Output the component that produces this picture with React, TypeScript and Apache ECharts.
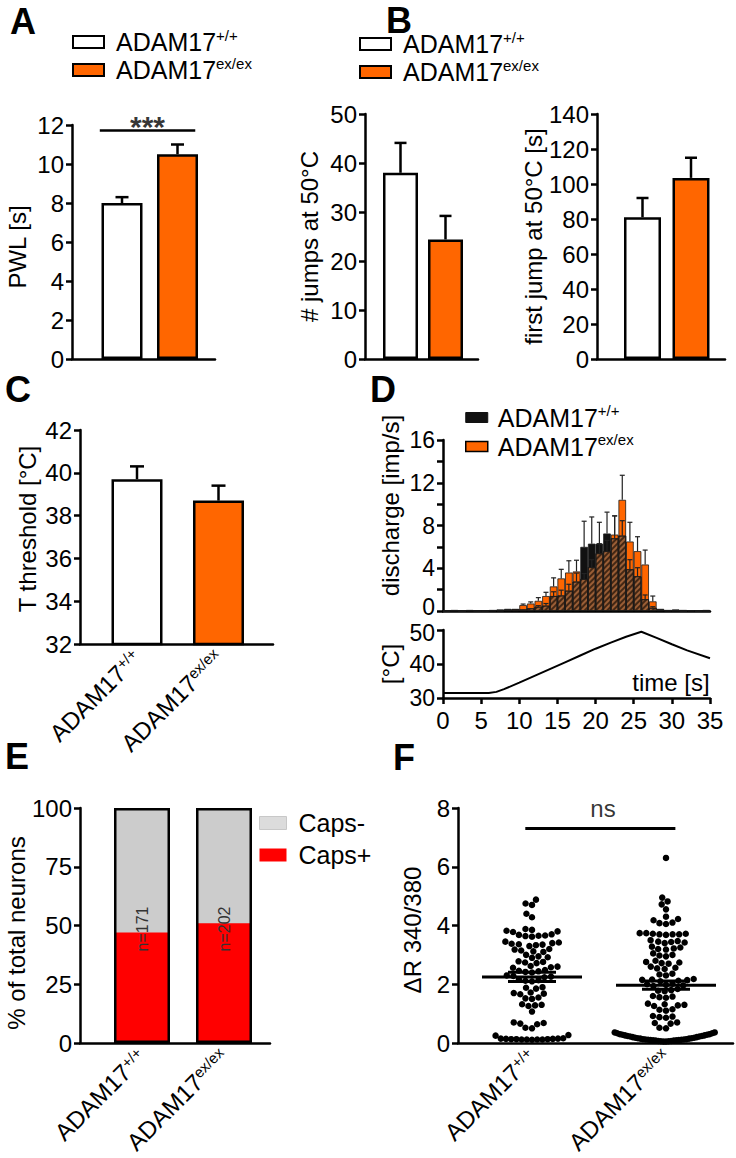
import React, { useEffect, useRef } from 'react';
import * as echarts from 'echarts';

// ---------------- data ----------------
const GROUP_BASE = 'ADAM17';
const GROUP_SUP = ['+/+', 'ex/ex'];
const GROUPS = ['ADAM17+/+', 'ADAM17ex/ex'];

// A
const PWL_MEAN = [8.0, 10.5];
const PWL_SEM = [0.3, 0.5];
const PWL_AXIS = [0, 12, 2];
const SIG_A = '***';
// B
const JUMPS_MEAN = [38.0, 24.4];
const JUMPS_SEM = [6.1, 4.8];
const JUMPS_AXIS = [0, 50, 10];
const FIRST_JUMP_MEAN = [81.0, 103.5];
const FIRST_JUMP_SEM = [11.0, 11.5];
const FIRST_JUMP_AXIS = [0, 140, 20];
// C
const T_THRESH_MEAN = [39.7, 38.7];
const T_THRESH_SEM = [0.6, 0.7];
const T_THRESH_AXIS = [32, 42, 2];
// D
const TIME_BINS = [0, 1, 2, 3, 4, 5, 6, 7, 8, 9, 10, 11, 12, 13, 14, 15, 16, 17, 18, 19, 20, 21, 22, 23, 24, 25, 26, 27, 28, 29, 30, 31, 32, 33, 34];
const WT_DISCHARGE = [0.05, 0.1, 0.05, 0.1, 0, 0.05, 0.1, 0.15, 0.2, 0.2, 0.15, 0.25, 0.4, 0.5, 1.4, 1.45, 1.9, 2.75, 6.0, 6.3, 6.3, 7.25, 6.8, 7.05, 3.9, 3.25, 1.1, 0.3, 0.2, 0.1, 0.15, 0.1, 0.05, 0.05, 0.1];
const EX_DISCHARGE = [0, 0.05, 0, 0.05, 0, 0, 0.05, 0.05, 0.1, 0.15, 0.55, 0.7, 0.95, 1.4, 2.3, 3.05, 3.6, 3.7, 3.0, 4.1, 5.4, 5.6, 7.15, 10.4, 6.5, 5.6, 4.35, 0.9, 0.1, 0.05, 0.05, 0, 0.05, 0, 0];
const WT_DISCHARGE_SEM = [0, 0, 0, 0, 0, 0, 0, 0, 0, 0, 0, 0, 0.1, 0.2, 0.4, 0.5, 0.6, 0.8, 2.4, 2.5, 2.0, 2.0, 2.1, 1.4, 0.9, 0.8, 0.4, 0.1, 0, 0, 0, 0, 0, 0, 0];
const EX_DISCHARGE_SEM = [0, 0, 0, 0, 0, 0, 0, 0, 0, 0, 0.1, 0.15, 0.3, 0.35, 0.8, 0.85, 1.1, 1.05, 0.5, 0.7, 0.9, 1.0, 1.75, 2.3, 1.8, 1.35, 1.35, 0.5, 0, 0, 0, 0, 0, 0, 0];
const DISCHARGE_AXIS = [0, 16, 2];
const TEMP_TIME = [0, 6, 7, 8, 10, 12, 14, 16, 18, 20, 22, 24, 26, 28, 30, 32, 35];
const TEMP_VALUES = [31.5, 31.5, 31.8, 32.6, 34.5, 36.5, 38.5, 40.5, 42.5, 44.5, 46.3, 48.0, 49.5, 47.7, 45.8, 44.0, 41.7];
const TEMP_AXIS = [30, 50, 10];
const TIME_AXIS = [0, 35, 5];
// E
const CAPS_POS = [47, 51];
const CAPS_NEG = [53, 49];
const N_CELLS = [171, 202];
const PCT_AXIS = [0, 100, 25];
// F
const WT_RATIO = [4.88, 4.75, 4.7, 4.4, 4.28,
  3.88, 3.85, 3.82, 3.8, 3.78,
  3.7, 3.68, 3.66, 3.65, 3.64, 3.62,
  3.45, 3.42, 3.4, 3.38, 3.36, 3.35, 3.33, 3.3,
  3.2, 3.18, 3.15, 3.12, 3.1,
  3.0, 2.95, 2.92, 2.9,
  2.78, 2.76, 2.74, 2.72,
  2.62, 2.6, 2.58, 2.56,
  2.48, 2.46, 2.44, 2.42, 2.4,
  2.3, 2.28, 2.26, 2.24,
  2.16, 2.14, 2.12, 2.1,
  1.9, 1.88, 1.85,
  1.72, 1.7, 1.68, 1.66,
  1.55, 1.52, 1.5,
  1.32, 1.3, 1.28, 1.26,
  1.07,
  0.7, 0.68, 0.66, 0.64,
  0.52, 0.5,
  0.27, 0.25,
  0.15, 0.14, 0.13, 0.13, 0.12, 0.12, 0.12, 0.11, 0.12, 0.13, 0.14, 0.15, 0.16];
const EX_RATIO = [6.3, 4.95, 4.82, 4.72, 4.55, 4.3, 4.22, 4.18, 4.1, 4.08, 4.05,
  3.74, 3.72, 3.7, 3.7, 3.68, 3.7, 3.72, 3.74,
  3.5, 3.47, 3.45, 3.44, 3.42, 3.4,
  3.28, 3.25, 3.22, 3.2, 3.18,
  3.05, 3.0, 2.98, 2.95,
  2.8, 2.76, 2.74, 2.72, 2.7,
  2.6, 2.56, 2.54, 2.52,
  2.36, 2.33, 2.3,
  2.18, 2.16, 2.15, 2.14, 2.12, 2.1,
  2.02, 2.0, 1.98, 1.96, 1.94,
  1.84, 1.8, 1.78, 1.76,
  1.6, 1.58, 1.56, 1.54,
  1.34, 1.32, 1.3, 1.28, 1.26,
  1.15, 1.13, 1.1,
  0.92, 0.9, 0.88, 0.86,
  0.7, 0.68, 0.66,
  0.52, 0.5,
  0.36, 0.33, 0.3, 0.28, 0.26, 0.24, 0.22, 0.2, 0.18, 0.16, 0.15, 0.13, 0.12, 0.11, 0.1, 0.09, 0.08, 0.07, 0.06, 0.05,
  0.05, 0.06, 0.07, 0.08, 0.09, 0.1, 0.11, 0.12, 0.13, 0.15, 0.16, 0.18, 0.2, 0.22, 0.24, 0.26, 0.28, 0.3, 0.33, 0.36];
const RATIO_MEAN = [2.25, 1.97];
const RATIO_SEM = [0.16, 0.14];
const RATIO_AXIS = [0, 8, 2];
const SIG_F = 'ns';

// ---------------- layout / style ----------------
const FONT = '"Liberation Sans", Arial, Helvetica, sans-serif';
const ORANGE = '#ff6600';
const L: any = {
  A: { grid: { left: 72, top: 125, width: 143, height: 234 }, centers: [122, 177.5], barW: 41 },
  B1: { grid: { left: 365, top: 114, width: 113, height: 245 }, centers: [400.5, 445.5], barW: 35 },
  B2: { grid: { left: 597, top: 114, width: 128, height: 245 }, centers: [642.5, 691], barW: 37 },
  C: { grid: { left: 80, top: 430, width: 193, height: 214 }, centers: [137, 218.5], barW: 51 },
  Dt: { grid: { left: 443, top: 440, width: 267, height: 171 } },
  Db: { grid: { left: 443, top: 630, width: 267, height: 68 } },
  E: { grid: { left: 80, top: 808, width: 190, height: 235 }, centers: [142, 224], barW: 56 },
  F: { grid: { left: 458, top: 808, width: 275, height: 235 }, centers: [532, 666] },
};

const SUP = { fontSize: 15, verticalAlign: 'top', lineHeight: 16, fontFamily: FONT, color: '#000' };
const groupText = (i: number) => GROUP_BASE + '{sup|' + GROUP_SUP[i] + '}';

function xr(p: any) {
  const d = p.centers[1] - p.centers[0];
  return { min: -(p.centers[0] - p.grid.left) / d, max: 1 + (p.grid.left + p.grid.width - p.centers[1]) / d };
}

function xAx(gridIndex: number, range: any, extra: any = {}) {
  return {
    type: 'value', gridIndex, ...range,
    axisLine: { show: true, onZero: false, lineStyle: { color: '#000', width: 2.5 } },
    axisTick: { show: false },
    axisLabel: { show: false },
    splitLine: { show: false },
    ...extra,
  };
}

function yAx(gridIndex: number, ax: number[], name: string, nameGap: number, extra: any = {}, namePad: number[] = [0, 0, 0, 0]) {
  return {
    type: 'value', gridIndex, min: ax[0], max: ax[1], interval: ax[2],
    name, nameLocation: 'middle', nameGap, nameRotate: 90,
    nameTextStyle: { fontSize: 24, color: '#000', fontFamily: FONT, padding: namePad },
    axisLine: { show: true, onZero: false, lineStyle: { color: '#000', width: 2.5 } },
    axisTick: { show: true, inside: false, length: 6, lineStyle: { color: '#000', width: 2.5 } },
    axisLabel: { fontSize: 24, color: '#000', margin: 8, fontFamily: FONT },
    splitLine: { show: false },
    ...extra,
  };
}

const groupLabel = {
  show: true, customValues: [0, 1], rotate: 45, fontSize: 24, color: '#000', margin: 10, fontFamily: FONT,
  formatter: (v: number) => groupText(Math.round(v)),
  rich: { sup: SUP },
};

function barPair(ax: number, means: number[], barW: number) {
  return GROUPS.map((g, i) => ({
    type: 'bar', name: g, xAxisIndex: ax, yAxisIndex: ax, barWidth: barW, barGap: '-100%',
    data: [[i, means[i]]], silent: true, z: 2,
    itemStyle: { color: i === 0 ? '#ffffff' : ORANGE, borderColor: '#000', borderWidth: 2.5 },
  }));
}

function errSeries(ax: number, xs: number[], means: number[], sems: number[], capHalf: number, lw: number, color: string) {
  const data: any[] = [];
  xs.forEach((x, i) => { if (sems[i] > 0) data.push([x, means[i], means[i] + sems[i]]); });
  return {
    type: 'custom', xAxisIndex: ax, yAxisIndex: ax, silent: true, z: 6, data,
    renderItem: (_p: any, api: any) => {
      const x = api.value(0);
      const lo = api.coord([x, api.value(1)]);
      const hi = api.coord([x, api.value(2)]);
      return {
        type: 'group', children: [
          { type: 'line', shape: { x1: lo[0], y1: lo[1], x2: hi[0], y2: hi[1] }, style: { stroke: color, lineWidth: lw } },
          { type: 'line', shape: { x1: hi[0] - capHalf, y1: hi[1], x2: hi[0] + capHalf, y2: hi[1] }, style: { stroke: color, lineWidth: lw } },
        ],
      };
    },
  };
}

// swarm layout: lowest values form an arc row, the rest a collision-free beeswarm
function swarm(values: number[], pxPerY: number, diameter: number, rowMax: number, arcWidth: number, arcSpacing: number) {
  const out = new Array(values.length).fill(0);
  const placed: { x: number; y: number }[] = [];
  const bottom = values.map((_, i) => i).filter((i) => values[i] < rowMax).sort((a, b) => values[a] - values[b]);
  const s = bottom.length > 1 ? Math.min(arcSpacing, arcWidth / (bottom.length - 1)) : 0;
  bottom.forEach((idx, k) => {
    const step = Math.ceil(k / 2);
    const x = k === 0 ? 0 : (k % 2 === 1 ? -step * s : step * s);
    out[idx] = x;
    placed.push({ x, y: values[idx] * pxPerY });
  });
  const rest = values.map((_, i) => i).filter((i) => values[i] >= rowMax).sort((a, b) => values[a] - values[b]);
  for (const i of rest) {
    const y = values[i] * pxPerY;
    const cands = [0];
    const intervals: number[][] = [];
    for (const p of placed) {
      const dy = Math.abs(p.y - y);
      if (dy < diameter) {
        const dx = Math.sqrt(diameter * diameter - dy * dy);
        intervals.push([p.x - dx, p.x + dx]);
        cands.push(p.x - dx, p.x + dx);
      }
    }
    cands.sort((a, b) => Math.abs(a) - Math.abs(b));
    let best = 0;
    for (const c of cands) {
      if (intervals.every(([lo, hi]) => c <= lo + 1e-6 || c >= hi - 1e-6)) { best = c; break; }
    }
    placed.push({ x: best, y });
    out[i] = best;
  }
  return out;
}

function legendBlock(left: number, top: number, names: string[], styles: any[], w: number, h: number, lineH: number, pad: number, fmt: (n: string) => string) {
  return {
    orient: 'vertical', left, top, padding: 0, itemGap: 0, itemWidth: w, itemHeight: h, selectedMode: false,
    icon: 'rect',
    data: names.map((n, i) => ({ name: n, icon: 'rect', itemStyle: styles[i] })),
    formatter: fmt,
    textStyle: { fontSize: 25, lineHeight: lineH, color: '#000', fontFamily: FONT, padding: [0, 0, 0, pad], rich: { sup: SUP } },
  };
}

function buildOption() {
  const gridList = [L.A, L.B1, L.B2, L.C, L.Dt, L.Db, L.E, L.F].map((p: any) => ({ ...p.grid }));
  // D's two stacked axes: the touching end labels are nudged apart slightly
  const dTopLabel = {
    fontSize: 23, color: '#000', margin: 8, fontFamily: FONT,
    formatter: (v: number) => (v === DISCHARGE_AXIS[0] ? '{lo|' + v + '}' : v % 4 === 0 ? String(v) : ''),
    rich: { lo: { fontSize: 23, fontFamily: FONT, color: '#000', padding: [0, 0, 8, 0] } },
  };
  const dBottomLabel = {
    fontSize: 23, color: '#000', margin: 8, fontFamily: FONT,
    formatter: (v: number) => (v === TEMP_AXIS[1] ? '{hi|' + v + '}' : String(v)),
    rich: { hi: { fontSize: 23, fontFamily: FONT, color: '#000', padding: [6, 0, 0, 0] } },
  };

  const xAxes = [
    xAx(0, xr(L.A)),
    xAx(1, xr(L.B1)),
    xAx(2, xr(L.B2)),
    xAx(3, xr(L.C), { axisLabel: groupLabel }),
    xAx(4, { min: TIME_AXIS[0], max: TIME_AXIS[1] }),
    xAx(5, { min: TIME_AXIS[0], max: TIME_AXIS[1], interval: TIME_AXIS[2] }, {
      axisTick: { show: true, length: 6, lineStyle: { color: '#000', width: 2.5 } },
      axisLabel: { show: true, fontSize: 24, color: '#000', margin: 10, fontFamily: FONT },
    }),
    xAx(6, xr(L.E), { axisLabel: groupLabel }),
    xAx(7, xr(L.F), { axisLabel: groupLabel }),
  ];

  const yAxes = [
    yAx(0, PWL_AXIS, 'PWL [s]', 43, {}, [0, 10, 0, 0]),
    yAx(1, JUMPS_AXIS, '# jumps at 50°C', 44),
    yAx(2, FIRST_JUMP_AXIS, 'first jump at 50°C [s]', 47),
    yAx(3, T_THRESH_AXIS, 'T threshold [°C]', 41, {}, [0, 0, 0, 16]),
    yAx(4, DISCHARGE_AXIS, 'discharge [imp/s]', 41, { axisLabel: dTopLabel }, [0, 0, 0, 40]),
    yAx(5, TEMP_AXIS, '[°C]', 41, { axisLabel: dBottomLabel }),
    yAx(6, PCT_AXIS, '% of total neurons', 43, {}, [0, 15, 0, 0]),
    yAx(7, RATIO_AXIS, 'ΔR 340/380', 34, {}, [0, 9, 0, 0]),
  ];

  const series: any[] = [];

  // A
  const aBars = barPair(0, PWL_MEAN, L.A.barW);
  (aBars[0] as any).markLine = {
    silent: true, symbol: ['none', 'none'], label: { show: false },
    lineStyle: { color: '#000', width: 2.5, type: 'solid' },
    data: [[{ coord: [-0.4, 11.75] }, { coord: [1.32, 11.75] }]],
  };
  series.push(...aBars, errSeries(0, [0, 1], PWL_MEAN, PWL_SEM, 6.5, 2.5, '#000'));
  series.push({
    type: 'scatter', xAxisIndex: 0, yAxisIndex: 0, symbolSize: 1, silent: true, itemStyle: { color: 'rgba(0,0,0,0)' },
    data: [[0.46, 11.92]],
    label: { show: true, position: 'inside', formatter: SIG_A, fontSize: 30, fontWeight: 'bold', color: '#000', fontFamily: FONT },
  });

  // B
  series.push(...barPair(1, JUMPS_MEAN, L.B1.barW), errSeries(1, [0, 1], JUMPS_MEAN, JUMPS_SEM, 6, 2.5, '#000'));
  series.push(...barPair(2, FIRST_JUMP_MEAN, L.B2.barW), errSeries(2, [0, 1], FIRST_JUMP_MEAN, FIRST_JUMP_SEM, 6, 2.5, '#000'));

  // C
  series.push(...barPair(3, T_THRESH_MEAN, L.C.barW), errSeries(3, [0, 1], T_THRESH_MEAN, T_THRESH_SEM, 7, 2.5, '#000'));

  // D histogram: both groups overlaid, the shared part drawn hatched on top
  const binX = TIME_BINS.map((t) => t + 0.5);
  const dBar = (name: string, data: any[], itemStyle: any, z: number) => ({
    type: 'bar', name, xAxisIndex: 4, yAxisIndex: 4, barWidth: 7.6, barGap: '-100%', silent: true, data, z,
    itemStyle: { borderColor: '#1a1a1a', borderWidth: 0.8, ...itemStyle },
  });
  series.push(
    dBar('discharge ADAM17+/+', binX.map((x, i) => [x, WT_DISCHARGE[i]]), { color: '#111111' }, 2),
    dBar('discharge ADAM17ex/ex', binX.map((x, i) => [x, EX_DISCHARGE[i]]), { color: ORANGE }, 3),
    dBar('overlap', binX.map((x, i) => [x, Math.min(WT_DISCHARGE[i], EX_DISCHARGE[i])]), {
      color: '#9a5e36',
      decal: { symbol: 'rect', symbolSize: 1, dashArrayX: [1, 0], dashArrayY: [1.2, 1.8], rotation: -Math.PI / 4, color: 'rgba(30,15,5,0.7)' },
    }, 4),
    errSeries(4, binX, WT_DISCHARGE, WT_DISCHARGE_SEM, 2.5, 1.2, '#222'),
    errSeries(4, binX, EX_DISCHARGE, EX_DISCHARGE_SEM, 2.5, 1.2, '#222'),
  );
  // D temperature
  series.push({
    type: 'line', xAxisIndex: 5, yAxisIndex: 5, silent: true, showSymbol: false, symbol: 'none',
    data: TEMP_TIME.map((t, i) => [t, TEMP_VALUES[i]]),
    lineStyle: { color: '#000', width: 2 },
  });

  // E (Caps- sits on top of Caps+, drawn as the cumulative column behind it)
  series.push(
    {
      type: 'bar', name: 'Caps-', xAxisIndex: 6, yAxisIndex: 6, barWidth: L.E.barW, barGap: '-100%', silent: true,
      data: CAPS_POS.map((v, i) => [i, v + CAPS_NEG[i]]), itemStyle: { color: '#cccccc' }, z: 2,
    },
    {
      type: 'bar', name: 'Caps+', xAxisIndex: 6, yAxisIndex: 6, barWidth: L.E.barW, barGap: '-100%', silent: true,
      data: CAPS_POS.map((v, i) => [i, v]), itemStyle: { color: '#ff0000' }, z: 3,
    },
    {
      type: 'bar', name: 'total', xAxisIndex: 6, yAxisIndex: 6, barWidth: L.E.barW, barGap: '-100%', silent: true, z: 4,
      data: CAPS_POS.map((v, i) => [i, v + CAPS_NEG[i]]),
      itemStyle: { color: 'rgba(0,0,0,0)', borderColor: '#000', borderWidth: 2.5 },
      label: {
        show: true, position: ['50%', '51.5%'], rotate: 90, align: 'center', verticalAlign: 'middle',
        fontSize: 16, color: '#333', fontFamily: FONT,
        formatter: (p: any) => 'n=' + N_CELLS[p.dataIndex],
      },
    },
  );

  // F
  const pxX = L.F.centers[1] - L.F.centers[0];
  const pxY = L.F.grid.height / (RATIO_AXIS[1] - RATIO_AXIS[0]);
  [WT_RATIO, EX_RATIO].forEach((vals, g) => {
    const off = swarm(vals, pxY, 6.6, 0.4, 100, 5.2);
    const s: any = {
      type: 'scatter', name: 'F ' + GROUPS[g], xAxisIndex: 7, yAxisIndex: 7, symbolSize: 6.5, silent: true, z: 3,
      itemStyle: { color: '#000', opacity: 1 },
      data: vals.map((v, i) => [g + off[i] / pxX, v]),
    };
    if (g === 0) {
      s.markLine = {
        silent: true, symbol: ['none', 'none'], label: { show: false },
        lineStyle: { color: '#000', width: 3, type: 'solid' },
        data: [[{ coord: [-0.05, 7.32] }, { coord: [1.07, 7.32] }]],
      };
    }
    series.push(s);
  });
  series.push({
    type: 'custom', xAxisIndex: 7, yAxisIndex: 7, silent: true, z: 6,
    data: RATIO_MEAN.map((m, i) => [i, m, RATIO_SEM[i]]),
    renderItem: (_p: any, api: any) => {
      const x = api.value(0), m = api.value(1), s = api.value(2);
      const c = api.coord([x, m]);
      const hi = api.coord([x, m + s]);
      const lo = api.coord([x, m - s]);
      const st = { stroke: '#000', lineWidth: 3 };
      return {
        type: 'group', children: [
          { type: 'line', shape: { x1: c[0] - 50, y1: c[1], x2: c[0] + 50, y2: c[1] }, style: st },
          { type: 'line', shape: { x1: c[0] - 24, y1: hi[1], x2: c[0] + 24, y2: hi[1] }, style: st },
          { type: 'line', shape: { x1: c[0] - 24, y1: lo[1], x2: c[0] + 24, y2: lo[1] }, style: st },
        ],
      };
    },
  });
  series.push({
    type: 'scatter', xAxisIndex: 7, yAxisIndex: 7, symbolSize: 1, silent: true, itemStyle: { color: 'rgba(0,0,0,0)' },
    data: [[0.53, 8.0]],
    label: { show: true, position: 'inside', formatter: SIG_F, fontSize: 24, color: '#000', fontFamily: FONT },
  });

  const groupFmt = (n: string) => groupText(n.endsWith('+/+') ? 0 : 1);
  const whiteStyle = { color: '#ffffff', borderColor: '#000', borderWidth: 2 };
  const orangeStyle = { color: ORANGE, borderColor: '#000', borderWidth: 2 };

  const legends = [
    legendBlock(72, 28, GROUPS, [whiteStyle, orangeStyle], 31, 12, 28, 7, groupFmt),
    legendBlock(359, 30, GROUPS, [whiteStyle, orangeStyle], 31, 12, 28, 7, groupFmt),
    legendBlock(465, 403, ['discharge ADAM17+/+', 'discharge ADAM17ex/ex'],
      [{ color: '#111', borderColor: '#111', borderWidth: 1 }, { color: ORANGE, borderColor: '#000', borderWidth: 1.5 }], 22, 10, 29, 5, groupFmt),
    legendBlock(259, 807, ['Caps-', 'Caps+'],
      [{ color: '#dcdcdc', borderColor: '#c8c8c8', borderWidth: 1 }, { color: '#ff0000', borderColor: '#ff0000', borderWidth: 0 }], 27, 13, 32, 7, (n: string) => n),
  ];

  const letter = (t: string, x: number, y: number) => ({
    type: 'text', x, y, silent: true,
    style: { text: t, fontSize: 36, lineHeight: 18, fontWeight: 'bold', fontFamily: FONT, fill: '#000', align: 'center', verticalAlign: 'middle' },
  });

  return {
    animation: false,
    backgroundColor: '#ffffff',
    textStyle: { fontFamily: FONT },
    grid: gridList,
    xAxis: xAxes,
    yAxis: yAxes,
    legend: legends,
    series,
    graphic: [
      letter('A', 23, 21),
      letter('B', 399, 20),
      letter('C', 18, 389),
      letter('D', 383, 389),
      letter('E', 17, 756),
      letter('F', 404, 757),
      {
        type: 'text', x: 671, y: 682, silent: true,
        style: { text: 'time [s]', fontSize: 24, fontFamily: FONT, fill: '#000', align: 'center', verticalAlign: 'middle' },
      },
    ],
  };
}

export default function App() {
  const ref = useRef<HTMLDivElement>(null);
  useEffect(() => {
    const chart = echarts.init(ref.current as HTMLDivElement, null, { renderer: 'svg' });
    chart.setOption(buildOption() as any);
    return () => chart.dispose();
  }, []);
  return (
    <div
      ref={ref}
      style={{ position: 'absolute', left: 0, top: 0, width: 736, height: 1158, background: '#ffffff' }}
    />
  );
}
